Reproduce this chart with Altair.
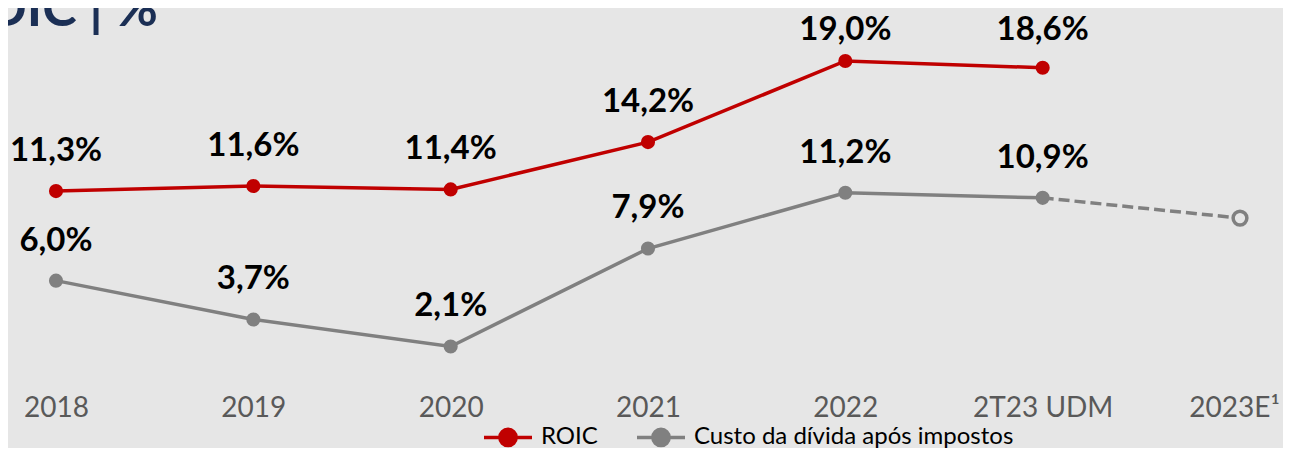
import altair as alt
import pandas as pd

categories = ["2018", "2019", "2020", "2021", "2022", "2T23 UDM", "2023E¹"]
roic = [11.3, 11.6, 11.4, 14.2, 19.0, 18.6]
custo = [6.0, 3.7, 2.1, 7.9, 11.2, 10.9]
proj_cats = ["2T23 UDM", "2023E¹"]
proj_vals = [10.9, 9.7]
series_names = ["ROIC", "Custo da dívida após impostos"]
colors = ["#c00000", "#808080"]
title_text = "ROIC | %"
BG = "#e6e6e6"


def fmt(v):
    return f"{v:.1f}".replace(".", ",") + "%"


rows = []
for c, v in zip(categories, roic):
    rows.append({"cat": c, "val": v, "series": series_names[0], "label": fmt(v)})
for c, v in zip(categories, custo):
    rows.append({"cat": c, "val": v, "series": series_names[1], "label": fmt(v)})
df = pd.DataFrame(rows)
proj = pd.DataFrame({"cat": proj_cats, "val": proj_vals})
title_df = pd.DataFrame({"t": [title_text]})

xenc = alt.X(
    "cat:N",
    sort=categories,
    scale=alt.Scale(type="point", domain=categories, range=[48, 1232], padding=0),
    axis=alt.Axis(
        title=None, labelFontSize=28, labelColor="#595959", labelFont="Lato",
        domain=False, ticks=False, labelPadding=2, labelAngle=0, grid=False,
        labelOffset={"condition": {"test": f"datum.value === '{categories[-1]}'", "value": -6}, "value": 0},
    ),
)
yscale = alt.Scale(domain=[0, 19], range=[374, 53])
yenc = alt.Y("val:Q", scale=yscale, axis=None)
cscale = alt.Scale(domain=series_names, range=colors)

sym_path = "M-1,0L1,0M0.34,0A0.34,0.34,0,1,1,-0.34,0A0.34,0.34,0,1,1,0.34,0"
leg = alt.Legend(
    title=None, orient="none", legendX=474, legendY=403, direction="horizontal",
    symbolType=sym_path, symbolSize=2304, symbolStrokeWidth=3.5,
    labelFont="Lato", labelFontSize=24, labelColor="black", labelLimit=500,
    columnPadding=32, labelOffset=7, symbolOpacity=1,
)
cenc = alt.Color("series:N", scale=cscale, legend=leg)

base = alt.Chart(df)
lines = base.mark_line(strokeWidth=3.5).encode(x=xenc, y=yenc, color=cenc)
proj_line = alt.Chart(proj).mark_line(
    strokeWidth=3.5, strokeDash=[11, 5], color=colors[1]
).encode(x=xenc, y=yenc)
points = base.mark_point(filled=True, size=200, opacity=1, shape="circle").encode(
    x=xenc, y=yenc, color=cenc,
)
proj_pt = alt.Chart(proj).transform_filter(
    alt.datum.cat == proj_cats[-1]
).mark_point(
    shape="circle", size=190, fill=BG, stroke=colors[1], strokeWidth=3.5, opacity=1, filled=False
).encode(x=xenc, y=yenc)
labels = base.transform_calculate(
    ly="min(datum.val + 1.78, 20.25)"
).mark_text(
    font="Lato", fontSize=33, fontWeight="bold", color="black", baseline="alphabetic"
).encode(x=xenc, y=alt.Y("ly:Q", scale=yscale, axis=None), text="label:N")
title = alt.Chart(title_df).mark_text(
    font="Lato", fontSize=52, fontWeight="bold", color="#1b2f55", align="right", baseline="alphabetic"
).encode(x=alt.value(150), y=alt.value(18), text="t:N")

chart = alt.layer(lines, proj_line, points, proj_pt, labels, title).properties(
    width=1275, height=384, background=BG,
    autosize=alt.AutoSizeParams(type="none"),
    padding={"left": 0, "top": 0, "right": 0, "bottom": 56},
).configure_view(stroke=None)

chart.save("out.html", embed_options={"renderer": "svg", "actions": False})
